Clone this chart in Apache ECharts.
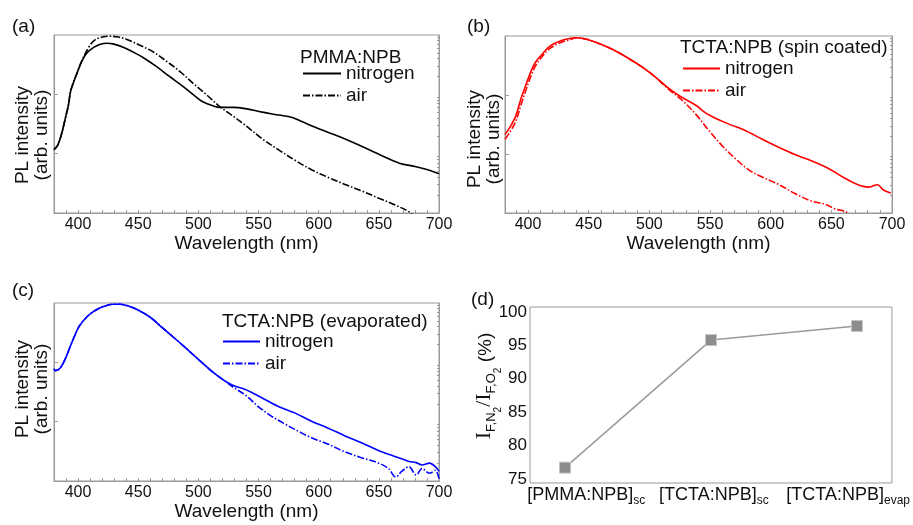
<!DOCTYPE html>
<html>
<head>
<meta charset="utf-8">
<script src="https://cdn.jsdelivr.net/npm/echarts@6/dist/echarts.min.js"></script>
<style>
  html, body { margin: 0; padding: 0; background: #fff; }
  #chart { width: 913px; height: 525px; }
</style>
</head>
<body>
<div id="chart"></div>
<script>
// PL spectra: wavelength (nm) and intensity (arb. units, log axis)
const waveA_N2 = [380, 383, 386, 389, 392, 394, 399, 403, 407, 413, 418, 424, 429, 438, 446, 454, 465, 476, 488, 496, 504, 513, 518, 529, 539, 553, 567, 578, 586, 600, 617, 633, 650, 667, 681, 692, 700];
const plA_N2 = [11.7, 13.8, 20.4, 36.3, 66.1, 117, 224, 355, 490, 617, 692, 724, 708, 617, 513, 417, 295, 200, 132, 97.7, 74.1, 63.1, 60.3, 60.3, 57.5, 50.1, 44.7, 40.7, 34.7, 26.3, 19.5, 14.1, 9.77, 6.92, 6.03, 5.25, 4.57];
const waveA_Air = [380, 383, 386, 389, 392, 394, 399, 403, 410, 415, 421, 426, 432, 440, 451, 463, 474, 485, 496, 507, 518, 529, 539, 553, 567, 581, 594, 608, 622, 636, 650, 664, 675, 681];
const plA_Air = [11.7, 13.8, 20.4, 36.3, 66.1, 117, 224, 363, 676, 851, 933, 955, 933, 851, 676, 513, 355, 240, 151, 97.7, 61.7, 42.7, 30.2, 17.8, 11.5, 7.59, 5.37, 3.98, 3.02, 2.34, 1.78, 1.35, 1.05, 0.83];

const waveB_N2 = [381, 385, 390, 394, 398, 402, 406, 412, 418, 427, 435, 440, 449, 460, 471, 482, 493, 504, 515, 526, 538, 546, 554, 565, 579, 593, 607, 620, 634, 648, 662, 673, 681, 688, 693, 699];
const plB_N2 = [21.4, 28.2, 44.7, 85.1, 145, 240, 355, 501, 676, 832, 912, 933, 871, 724, 575, 427, 309, 209, 135, 93.3, 67.6, 50.1, 40.7, 32.4, 25.1, 17.8, 12.9, 9.77, 7.59, 5.62, 3.80, 2.95, 2.75, 3.02, 2.45, 2.19];
const waveB_Air = [381, 385, 390, 394, 398, 402, 406, 412, 418, 427, 435, 440, 449, 460, 471, 482, 493, 504, 515, 526, 538, 549, 560, 571, 582, 593, 607, 620, 634, 645, 653, 662, 667];
const plB_Air = [17.8, 23.4, 36.3, 66.1, 117, 200, 309, 457, 617, 776, 871, 933, 871, 724, 575, 427, 309, 209, 129, 85.1, 47.9, 25.1, 13.8, 8.32, 5.37, 4.07, 3.02, 2.14, 1.58, 1.41, 1.17, 1.05, 0.79];

const waveC_N2 = [380, 381, 385, 389, 393, 397, 401, 407, 413, 421, 429, 435, 443, 451, 460, 468, 476, 488, 499, 510, 521, 529, 539, 553, 567, 581, 594, 608, 622, 636, 650, 658, 667, 675, 681, 686, 692, 697, 700];
const plC_N2 = [77.6, 72.4, 79.4, 110, 174, 275, 407, 575, 724, 871, 955, 955, 871, 741, 575, 417, 302, 186, 117, 74.1, 50.1, 40.7, 34.7, 25.1, 17.8, 13.8, 10.2, 7.76, 5.75, 4.37, 3.24, 2.82, 2.45, 2.14, 2.04, 1.86, 2.0, 1.74, 1.45];
const waveC_Air = [380, 381, 385, 389, 393, 397, 401, 407, 413, 421, 429, 435, 443, 451, 460, 468, 476, 488, 499, 510, 521, 529, 539, 550, 561, 572, 583, 594, 608, 622, 636, 650, 658, 664, 669, 675, 681, 686, 692, 697, 700];
const plC_Air = [77.6, 72.4, 79.4, 110, 174, 275, 407, 575, 724, 871, 955, 955, 871, 741, 575, 417, 302, 186, 117, 74.1, 50.1, 38.0, 28.2, 17.8, 12.3, 9.12, 6.92, 5.37, 4.17, 3.09, 2.45, 2.0, 1.62, 1.17, 1.45, 1.74, 1.26, 1.62, 1.35, 1.51, 1.10];

// panel (d)
const sampleNames = ["[PMMA:NPB]", "[TCTA:NPB]", "[TCTA:NPB]"];
const sampleSubs = ["sc", "sc", "evap"];
const ratioD = [76.7, 95.8, 97.9];

// tick labels
const nmLabels = [400, 450, 500, 550, 600, 650, 700];
const nmTicks = [380, 390, 400, 410, 420, 430, 440, 450, 460, 470, 480, 490, 500, 510, 520, 530, 540, 550, 560, 570, 580, 590, 600, 610, 620, 630, 640, 650, 660, 670, 680, 690, 700];
const logMajor = [10, 100];
const logMinor = [2, 3, 4, 5, 6, 7, 8, 9, 20, 30, 40, 50, 60, 70, 80, 90, 200, 300, 400, 500, 600, 700, 800, 900];
const ratioLabels = [75, 80, 85, 90, 95, 100];

const FONT = "'Liberation Sans', Arial, Helvetica, sans-serif";
const SERIF = "'Liberation Serif', 'Times New Roman', serif";
const TXT = "#111";
const FRAME = "#999";

const chart = echarts.init(document.getElementById("chart"), null, { renderer: "canvas" });

function specX(grid, min) {
  return {
    gridIndex: grid,
    type: "value",
    min: min,
    max: 700,
    axisLine: { lineStyle: { color: FRAME } },
    axisTick: { inside: true, length: 3, customValues: nmTicks, lineStyle: { color: FRAME } },
    axisLabel: { customValues: nmLabels, margin: 4, fontSize: 16, color: TXT, fontFamily: FONT },
    splitLine: { show: false },
    name: "Wavelength (nm)",
    nameLocation: "middle",
    nameGap: 19,
    nameTextStyle: { fontSize: 19, color: TXT, fontFamily: FONT },
  };
}

function specY(grid, ticks, len) {
  return {
    gridIndex: grid,
    type: "log",
    logBase: 10,
    min: 1,
    max: 1000,
    axisLine: { lineStyle: { color: FRAME } },
    axisTick: { inside: true, length: len, customValues: ticks, lineStyle: { color: FRAME } },
    axisLabel: { show: false },
    splitLine: { show: false },
  };
}

function specSeries(name, panel, xs, ys, color, dashed) {
  return {
    name: name,
    type: "line",
    xAxisIndex: panel,
    yAxisIndex: panel * 2,
    data: xs.map((x, i) => [x, ys[i]]),
    symbol: "none",
    showSymbol: false,
    smooth: 0.35,
    lineStyle: { color: color, width: 1.6, type: dashed ? [7, 2, 1.5, 2] : "solid" },
    itemStyle: { color: color },
  };
}

function specLegend(names, left, top, w) {
  return {
    data: names,
    left: left,
    top: top,
    padding: 0,
    orient: "vertical",
    itemWidth: w,
    itemHeight: 10,
    itemGap: 3,
    selectedMode: false,
    itemStyle: { opacity: 0 },
    formatter: (n) => n.split("-")[1],
    textStyle: { fontSize: 19, color: TXT, fontFamily: FONT },
  };
}

function label(text, x, y, size) {
  return {
    type: "text",
    x: x,
    y: y,
    style: { text: text, fontSize: size || 19, fontFamily: FONT, fill: TXT, align: "left", verticalAlign: "middle" },
  };
}

function yName(x, y) {
  return {
    type: "text",
    x: x,
    y: y,
    rotation: Math.PI / 2,
    style: {
      text: "PL intensity\n(arb. units)",
      fontSize: 19,
      lineHeight: 19,
      fontFamily: FONT,
      fill: TXT,
      align: "center",
      verticalAlign: "middle",
    },
  };
}

const option = {
  animation: false,
  backgroundColor: "#fff",
  grid: [
    { left: 54, top: 35, width: 385, height: 178, show: true, borderColor: FRAME, borderWidth: 1 },
    { left: 505, top: 36, width: 387, height: 177, show: true, borderColor: FRAME, borderWidth: 1 },
    { left: 54, top: 303, width: 385, height: 178, show: true, borderColor: FRAME, borderWidth: 1 },
    { left: 530, top: 307, width: 363, height: 176, show: true, borderColor: FRAME, borderWidth: 1 },
  ],
  xAxis: [
    specX(0, 380),
    specX(1, 381),
    specX(2, 380),
    {
      gridIndex: 3,
      type: "value",
      min: -0.24,
      max: 2.24,
      axisLine: { show: false },
      axisTick: { show: false },
      splitLine: { show: false },
      axisLabel: {
        customValues: [0.145, 1.02, 1.94],
        margin: 3,
        formatter: (v) => {
          const i = Math.round(v);
          return "{m|" + sampleNames[i] + "}{s|" + sampleSubs[i] + "}";
        },
        rich: {
          m: { fontSize: 18, lineHeight: 18, color: TXT, fontFamily: FONT, verticalAlign: "top" },
          s: { fontSize: 12, lineHeight: 12, color: TXT, fontFamily: FONT, verticalAlign: "top", padding: [9, 0, 0, 0] },
        },
      },
    },
  ],
  yAxis: [
    specY(0, logMajor, 4),
    specY(0, logMinor, 2),
    specY(1, logMajor, 4),
    specY(1, logMinor, 2),
    specY(2, logMajor, 4),
    specY(2, logMinor, 2),
    {
      gridIndex: 3,
      type: "value",
      min: 74.4,
      max: 100.75,
      axisLine: { show: false },
      axisTick: { show: false },
      splitLine: { show: false },
      axisLabel: { customValues: ratioLabels, margin: 3, fontSize: 17, color: TXT, fontFamily: FONT },
    },
  ],
  legend: [
    specLegend(["a-nitrogen", "a-air"], 302, 64, 38),
    specLegend(["b-nitrogen", "b-air"], 682, 59, 37),
    specLegend(["c-nitrogen", "c-air"], 222, 332, 37),
  ],
  graphic: [
    label("(a)", 12, 27),
    label("(b)", 467, 27),
    label("(c)", 12, 291),
    label("(d)", 471, 300),
    label("PMMA:NPB", 300, 58),
    label("TCTA:NPB (spin coated)", 680, 48),
    label("TCTA:NPB (evaporated)", 222, 322),
    yName(32, 135),
    yName(484, 139),
    yName(32, 389),
    {
      type: "text",
      x: 484,
      y: 386,
      rotation: Math.PI / 2,
      style: {
        text: "{i|I}{s|F,N}{t|2}{i|/I}{s|F,O}{t|2}{p| (%)}",
        align: "center",
        verticalAlign: "middle",
        fill: TXT,
        rich: {
          i: { fontSize: 22, lineHeight: 22, fontFamily: SERIF, fill: TXT, verticalAlign: "top" },
          s: { fontSize: 13, lineHeight: 13, fontFamily: FONT, fill: TXT, verticalAlign: "top", padding: [12, 0, 0, 0] },
          t: { fontSize: 10, lineHeight: 10, fontFamily: FONT, fill: TXT, verticalAlign: "top", padding: [20, 0, 0, 0] },
          p: { fontSize: 19, lineHeight: 22, fontFamily: FONT, fill: TXT, verticalAlign: "top", padding: [3, 0, 0, 0] },
        },
      },
    },
  ],
  series: [
    specSeries("a-nitrogen", 0, waveA_N2, plA_N2, "#000", false),
    specSeries("a-air", 0, waveA_Air, plA_Air, "#000", true),
    specSeries("b-nitrogen", 1, waveB_N2, plB_N2, "#ff0000", false),
    specSeries("b-air", 1, waveB_Air, plB_Air, "#ff0000", true),
    specSeries("c-nitrogen", 2, waveC_N2, plC_N2, "#0000ff", false),
    specSeries("c-air", 2, waveC_Air, plC_Air, "#0000ff", true),
    {
      name: "ratio",
      type: "line",
      xAxisIndex: 3,
      yAxisIndex: 6,
      data: ratioD.map((v, i) => [i, v]),
      symbol: "rect",
      symbolSize: 11,
      lineStyle: { color: "#9a9a9a", width: 1.5 },
      itemStyle: { color: "#8c8c8c", borderColor: "#c4c4c4", borderWidth: 1 },
    },
  ],
};

chart.setOption(option);
</script>
</body>
</html>
